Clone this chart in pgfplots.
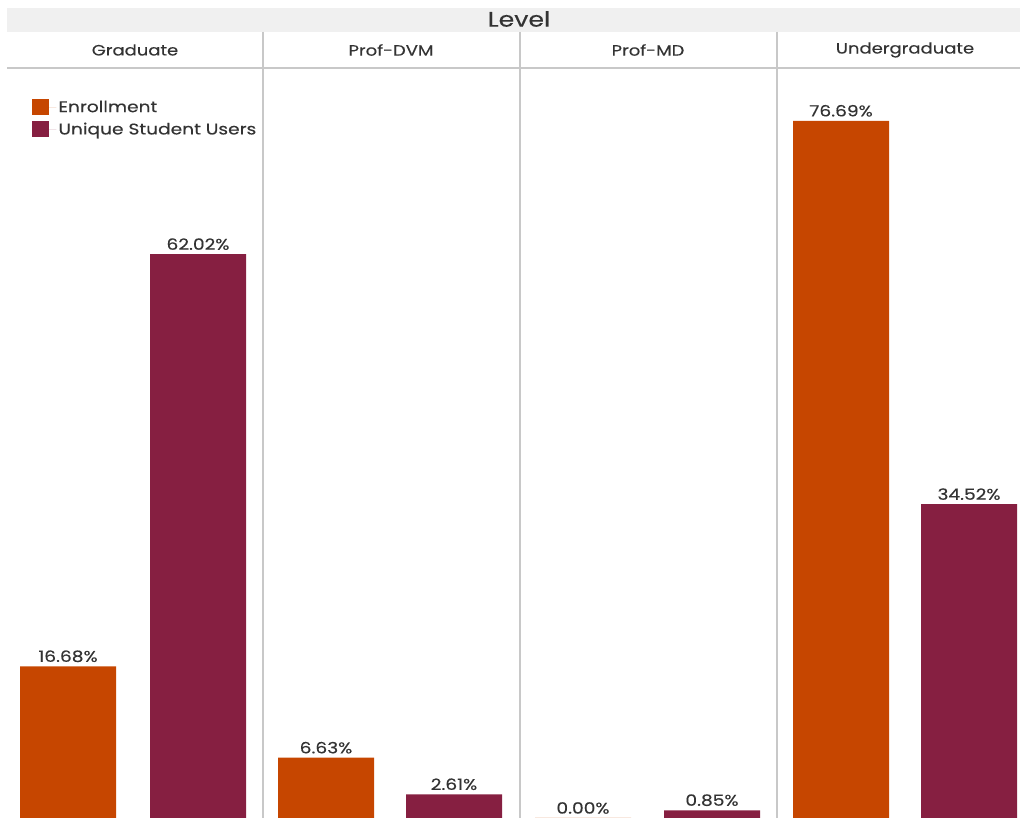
\documentclass[border=0pt]{standalone}
\usepackage{pgfplots}
\pgfplotsset{compat=1.18}
\usepackage{fontspec}
\setmainfont[FakeStretch=1.2,FakeBold=0.35]{Poppins}
\definecolor{vtorange}{HTML}{C64600}
\definecolor{vtmaroon}{HTML}{861F41}
\definecolor{sepgray}{HTML}{C8C8C8}
\definecolor{bandgray}{HTML}{F0F0F0}
\definecolor{txt}{HTML}{333333}
\begin{document}
\begin{tikzpicture}[x=1pt,y=1pt]
\useasboundingbox (0,0) rectangle (1022,818);
% header band
\fill[bandgray] (7,786) rectangle (1020,810);
\node[font=\fontsize{21}{23}\selectfont, text=txt] at (519,799) {Level};
\foreach \x/\t in {135/Graduate, 391/Prof-DVM, 648/Prof-MD, 905/Undergraduate}
  \node[font=\fontsize{15}{17}\selectfont, text=txt] at (\x,768) {\t};
\draw[sepgray, line width=1.2pt] (7,750) -- (1020,750);
\foreach \x in {263,520,777}
  \draw[sepgray, line width=1.2pt] (\x,786) -- (\x,0);
\begin{axis}[
  at={(7pt,0pt)}, anchor=south west,
  scale only axis, width=1013pt, height=750pt,
  xmin=7, xmax=1020, ymin=0, ymax=82.5,
  axis lines=none, ticks=none,
  ybar, bar width=96,
  clip=false,
  /pgf/number format/assume math mode=true,
  nodes near coords={\pgfmathprintnumber[fixed,fixed zerofill,precision=2,assume math mode=true]{\pgfplotspointmeta}\%},
  every node near coord/.append style={font=\fontsize{15.5}{17}\selectfont, text=txt, inner sep=3pt, yshift=1pt},
  legend style={at={(0.022,0.962)}, anchor=north west, draw=none, fill=none,
    font=\fontsize{15.5}{17}\selectfont, text=txt, row sep=5pt,
    legend cell align=left},
  legend image code/.code={\path (0pt,0pt) -- (24pt,0pt);\fill[#1] (0pt,-8pt) rectangle (17pt,8pt);},
]
\addplot[fill=vtorange, draw=none, bar shift=0pt] coordinates {(68,16.68) (326,6.63) (583,0.00) (841,76.69)};
\addlegendentry{Enrollment}
\addplot[fill=vtmaroon, draw=none, bar shift=0pt] coordinates {(198,62.02) (454,2.61) (712,0.85) (969,34.52)};
\addlegendentry{Unique Student Users}
\end{axis}
\end{tikzpicture}
\end{document}
